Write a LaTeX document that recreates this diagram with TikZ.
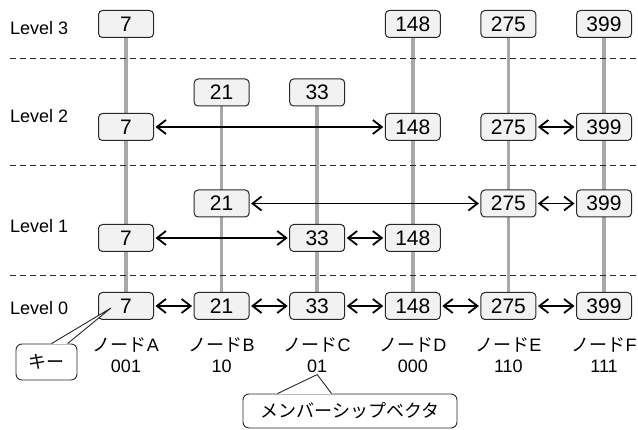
\documentclass[tikz,border=0pt]{standalone}
\usepackage{fontspec}
\setmainfont{Liberation Sans}
\newfontfamily\jpfont{Noto Sans CJK JP}
\usetikzlibrary{arrows.meta,positioning,backgrounds}
\definecolor{ink}{RGB}{40,40,40}
\definecolor{keyfill}{RGB}{242,242,242}
\definecolor{pole}{RGB}{168,168,168}
\tikzset{
  >={Straight Barb[length=9pt,width=14pt]},
  key/.style={draw=ink,fill=keyfill,rounded corners=4pt,line width=1pt,
    minimum width=55pt,minimum height=27pt,inner sep=0pt,
    font=\fontsize{21}{24}\selectfont},
  link/.style={<->,line width=1.8pt,draw=black,shorten <=1.5pt,shorten >=1.5pt},
  polestyle/.style={draw=pole,line width=3.5pt},
  tier/.style={anchor=west,inner sep=0pt,font=\fontsize{18}{21}\selectfont},
  divider/.style={draw=ink,line width=0.9pt,dash pattern=on 6pt off 4pt},
  tag/.style={inner sep=0pt,font=\fontsize{18}{21}\selectfont},
  callbox/.style={draw=ink,fill=white,rounded corners=6pt,line width=0.9pt,
    inner sep=0pt,font=\jpfont\fontsize{18}{22}\selectfont},
}

\begin{document}
\begin{tikzpicture}[x=1pt,y=-1pt]
  \useasboundingbox (0,0) rectangle (638,430);
  % levels
  \foreach \l/\y in {3/28,2/116,1/226,0/308}
    \node[tier] (lvl\l) at (10,\y) {Level \l};
  \foreach \y in {58,165,275}
    \draw[divider] (10,\y) -- (638,\y);

  % level 0 and names
  \foreach \n/\N/\k/\v [count=\i from 0] in {a/A/7/001,b/B/21/10,c/C/33/01,
      d/D/148/000,e/E/275/110,f/F/399/111}
  {
    \pgfmathsetmacro{\x}{126+\i*95.6}
    \node[key] (\n0) at (\x,306) {\k};
    \node[tag] (lab\n) at (\x,344.5) {{\jpfont ノード}\N};
    \node[tag] (vec\n) at (\x,366) {\v};
  }

  % level 1
  \node[key] (a1) at (a0 |- 0,238) {7};
  \node[key] (c1) at (c0 |- 0,238) {33};
  \node[key] (d1) at (d0 |- 0,238) {148};
  \node[key] (b1) at (b0 |- 0,203.5) {21};
  \node[key] (e1) at (e0 |- 0,203.5) {275};
  \node[key] (f1) at (f0 |- 0,203.5) {399};
  % level 2
  \node[key] (a2) at (a0 |- 0,127) {7};
  \node[key] (d2) at (d0 |- 0,127) {148};
  \node[key] (e2) at (e0 |- 0,127) {275};
  \node[key] (f2) at (f0 |- 0,127) {399};
  \node[key] (b2) at (b0 |- 0,92.5) {21};
  \node[key] (c2) at (c0 |- 0,92.5) {33};
  % level 3
  \node[key] (a3) at (a0 |- 0,24) {7};
  \node[key] (d3) at (d0 |- 0,24) {148};
  \node[key] (e3) at (e0 |- 0,24) {275};
  \node[key] (f3) at (f0 |- 0,24) {399};

  \begin{scope}[on background layer]
    \foreach \s/\t in {a3/a0,b2/b0,c2/c0,d3/d0,e3/e0,f3/f0}
      \draw[polestyle] (\s) -- (\t);
  \end{scope}

  \foreach \s/\t in {a0/b0,b0/c0,c0/d0,d0/e0,e0/f0,a1/c1,c1/d1,b1/e1,e1/f1,a2/d2,e2/f2}
    \draw[link] (\s) -- (\t);

  % callouts
  \node[callbox,minimum width=61pt,minimum height=36pt] (keynote) at (46.5,362) {キー};
  \coordinate (keytip) at ([xshift=-15pt,yshift=-2pt]a0.center);
  \coordinate (keyb1) at ([xshift=36pt]keynote.north west);
  \coordinate (keyb2) at ([xshift=52pt]keynote.north west);
  \fill[white] ([yshift=-0.7pt]keyb1) -- (keytip) -- ([yshift=-0.7pt]keyb2) -- cycle;
  \draw[ink,line width=0.9pt] (keyb1) -- (keytip) -- (keyb2);

  \node[callbox,minimum width=214pt,minimum height=34pt] (vecnote) at (350,411) {メンバーシップベクタ};
  \coordinate (vectip) at ([yshift=-2pt]vecc.south);
  \coordinate (vecb1) at ([xshift=35pt]vecnote.north west);
  \coordinate (vecb2) at ([xshift=89pt]vecnote.north west);
  \fill[white] ([yshift=-0.7pt]vecb1) -- (vectip) -- ([yshift=-0.7pt]vecb2) -- cycle;
  \draw[ink,line width=0.9pt] (vecb1) -- (vectip) -- (vecb2);
\end{tikzpicture}
\end{document}
